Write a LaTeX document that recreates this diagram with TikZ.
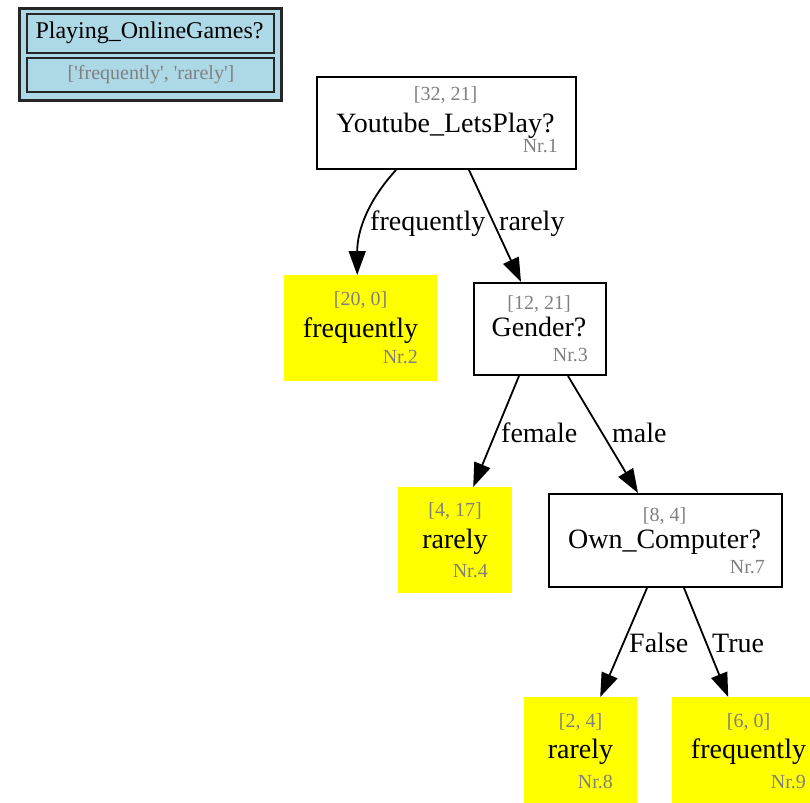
\documentclass[tikz,border=0pt]{standalone}
\usepackage{fontspec}
\setmainfont{Liberation Serif}
\usetikzlibrary{arrows.meta,calc}
\definecolor{legendblue}{RGB}{173,216,230}
\definecolor{leafyellow}{RGB}{255,255,0}
\definecolor{infogray}{RGB}{128,128,128}
\begin{document}
\begin{tikzpicture}[x=1pt,y=-1pt,
  split/.style={draw=black, line width=2pt, fill=white, inner sep=0pt, anchor=north west},
  leaf/.style={fill=leafyellow, inner sep=0pt, anchor=north west},
  lgbox/.style={draw=black!85, fill=legendblue, inner sep=0pt, anchor=north west},
  counts/.style={anchor=base, text=infogray, font=\fontsize{20}{24}\selectfont, inner sep=0pt},
  label/.style={anchor=base, font=\fontsize{28}{32}\selectfont, inner sep=0pt},
  nr/.style={anchor=base east, text=infogray, font=\fontsize{20}{24}\selectfont, inner sep=0pt},
  edge/.style={line width=1.8pt, -{Triangle[length=24pt,width=17pt]}},
  elabel/.style={anchor=base west, font=\fontsize{28}{32}\selectfont, inner sep=0pt},
]
\useasboundingbox (0,0) rectangle (810,802);

% legend: target variable and its classes
\node[lgbox, line width=3pt, minimum width=262pt, minimum height=92pt] (legend) at (18,7) {};
\node[lgbox, line width=2pt, minimum width=247pt, minimum height=39pt] (lgtitle) at (26,13) {};
\node[lgbox, line width=2pt, minimum width=247pt, minimum height=34pt] (lgclasses) at (26,57) {};
\node[anchor=base, inner sep=0pt, font=\fontsize{24}{28}\selectfont] (lgtitletext) at (149.5,39) {Playing\_OnlineGames?};
\node[counts] (lgclassestext) at (151,80) {[\textquotesingle frequently\textquotesingle, \textquotesingle rarely\textquotesingle]};

% split nodes
\node[split, minimum width=259pt, minimum height=92pt] (n1) at (316,76) {};
\node[counts] (n1c) at (445.5,101) {[32, 21]};
\node[label]  (n1l) at (445.5,133) {Youtube\_LetsPlay?};
\node[nr]     (n1n) at (558,153) {Nr.1};

\node[split, minimum width=132pt, minimum height=92pt] (n3) at (473,282) {};
\node[counts] (n3c) at (539,309) {[12, 21]};
\node[label]  (n3l) at (539,336) {Gender?};
\node[nr]     (n3n) at (588,361) {Nr.3};

\node[split, minimum width=233pt, minimum height=93pt] (n7) at (548,493) {};
\node[counts] (n7c) at (664.5,521) {[8, 4]};
\node[label]  (n7l) at (664.5,548) {Own\_Computer?};
\node[nr]     (n7n) at (765,573) {Nr.7};

% leaves
\node[leaf, minimum width=153pt, minimum height=106pt] (n2) at (284,275) {};
\node[counts] (n2c) at (360.5,305) {[20, 0]};
\node[label]  (n2l) at (360.5,337) {frequently};
\node[nr]     (n2n) at (418,363) {Nr.2};

\node[leaf, minimum width=114pt, minimum height=106pt] (n4) at (398,487) {};
\node[counts] (n4c) at (455,516) {[4, 17]};
\node[label]  (n4l) at (455,548) {rarely};
\node[nr]     (n4n) at (488,577) {Nr.4};

\node[leaf, minimum width=113pt, minimum height=106pt] (n8) at (524,697) {};
\node[counts] (n8c) at (580.5,727) {[2, 4]};
\node[label]  (n8l) at (580.5,758) {rarely};
\node[nr]     (n8n) at (613,788) {Nr.8};

\node[leaf, minimum width=153pt, minimum height=106pt] (n9) at (672,697) {};
\node[counts] (n9c) at (748.5,727) {[6, 0]};
\node[label]  (n9l) at (748.5,758) {frequently};
\node[nr]     (n9n) at (806,788) {Nr.9};

% branches
\draw[edge] ($(n1.south)+(-50.5,0)$) .. controls ($(n1.south)+(-78,30)$) and ($(n2.north)+(-3.5,-45)$) .. ($(n2.north)+(-3.5,0)$);
\draw[edge] ($(n1.south)+(22.5,0)$) -- ($(n3.north)+(-19,0)$);
\draw[edge] ($(n3.south)+(-21,0)$) -- ($(n4.north)+(18,0)$);
\draw[edge] ($(n3.south)+(28,0)$) -- ($(n7.north)+(-27.5,0)$);
\draw[edge] ($(n7.south)+(-18.5,0)$) -- ($(n8.north)+(19.5,0)$);
\draw[edge] ($(n7.south)+(18.5,0)$) -- ($(n9.north)+(-20.5,0)$);

% branch labels
\node[elabel] (e12) at (370,230) {frequently};
\node[elabel] (e13) at (499,230) {rarely};
\node[elabel] (e34) at (501,442) {female};
\node[elabel] (e37) at (612,442) {male};
\node[elabel] (e78) at (629,652) {False};
\node[elabel] (e79) at (712,652) {True};
\end{tikzpicture}
\end{document}
